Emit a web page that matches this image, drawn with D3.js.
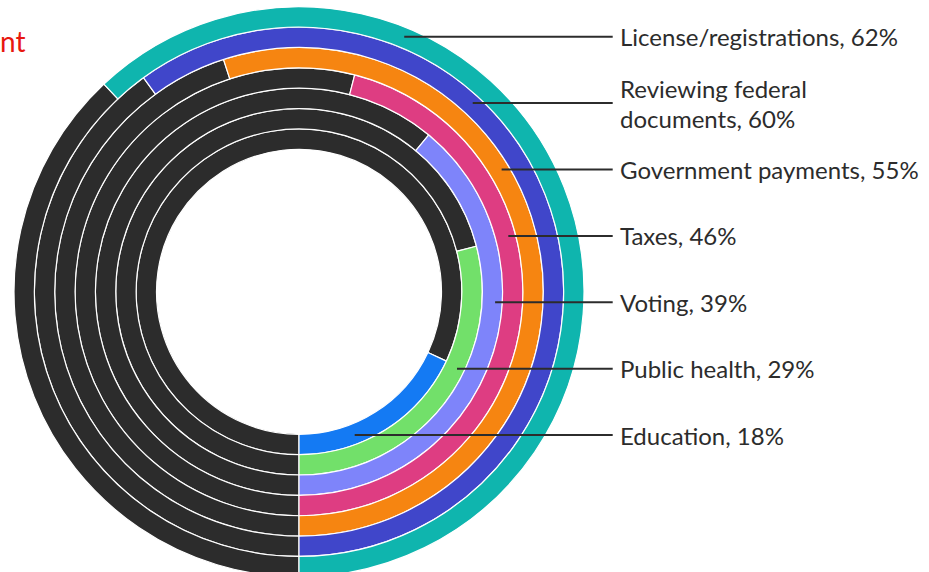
<!DOCTYPE html>
<html>
<head>
<meta charset="utf-8">
<script src="https://cdn.jsdelivr.net/npm/d3@7"></script>
<style>
  html, body { margin: 0; padding: 0; background: #ffffff; }
  svg { display: block; }
</style>
</head>
<body>
<svg id="chart" width="929" height="572"></svg>
<script>
// Share of respondents per service, innermost ring first
const categories = ["Education", "Public health", "Voting", "Taxes",
  "Government payments", "Reviewing federal documents", "License/registrations"];
const shares = [18, 29, 39, 46, 55, 60, 62];
// Label text per ring ("\n" marks a manual line break)
const labelNames = ["Education", "Public health", "Voting", "Taxes",
  "Government payments", "Reviewing federal\ndocuments", "License/registrations"];
const ringColors = ["#147af3", "#72e06a", "#7e84fa", "#de3d82", "#f68511", "#4046ca", "#0fb5ae"];
const restColor = "#2c2c2c";
const titleFragment = "nt";

const width = 929, height = 572;
const cx = 299, cy = 291.8;
const innerR = 142.5, outerR = 285;

const svg = d3.select("#chart");

// Ring radii: one band per category, inside to outside
const radius = d3.scaleBand().domain(categories).range([innerR, outerR]).paddingInner(0);
// Percent to angle: rings start at 6 o'clock and sweep counter-clockwise
const angle = d3.scaleLinear().domain([0, 100]).range([Math.PI, -Math.PI]);

const data = categories.map((c, i) => ({
  name: c, value: shares[i], color: ringColors[i], label: labelNames[i]
}));

const arc = d3.arc();
const g = svg.append("g").attr("transform", `translate(${cx},${cy})`);

const rings = g.selectAll("g.ring").data(data).join("g").attr("class", "ring");

// remaining share in dark grey
rings.append("path")
  .attr("d", d => arc({
    innerRadius: radius(d.name), outerRadius: radius(d.name) + radius.bandwidth(),
    startAngle: -Math.PI, endAngle: angle(d.value)
  }))
  .attr("fill", restColor)
  .attr("stroke", "#ffffff")
  .attr("stroke-width", 1.2);

// coloured share
rings.append("path")
  .attr("d", d => arc({
    innerRadius: radius(d.name), outerRadius: radius(d.name) + radius.bandwidth(),
    startAngle: angle(d.value), endAngle: Math.PI
  }))
  .attr("fill", d => d.color)
  .attr("stroke", "#ffffff")
  .attr("stroke-width", 1.2);

// Labels stacked on the right, outermost ring at the top
const labelY = d3.scalePoint().domain(categories.slice().reverse()).range([36.7, 435.1]);
const lineEndX = 612.7, textX = 620;

const labels = svg.append("g").selectAll("g.label").data(data).join("g").attr("class", "label");

labels.append("line")
  .attr("x1", d => {
    const rm = radius(d.name) + radius.bandwidth() / 2;
    const dy = labelY(d.name) - cy;
    return cx + Math.sqrt(Math.max(0, rm * rm - dy * dy)) + 3;
  })
  .attr("x2", lineEndX)
  .attr("y1", d => labelY(d.name))
  .attr("y2", d => labelY(d.name))
  .attr("stroke", "#2c2c2c")
  .attr("stroke-width", 2);

labels.each(function(d) {
  const rows = `${d.label}, ${d.value}%`.split("\n");
  const y0 = labelY(d.name) + 9.5 - (rows.length - 1) * 15;
  const t = d3.select(this).append("text")
    .attr("font-family", "Lato, 'Open Sans', sans-serif")
    .attr("font-size", 24)
    .attr("fill", "#2c2c2c");
  rows.forEach((r, i) => {
    t.append("tspan").attr("x", textX).attr("y", y0 + i * 30).text(r);
  });
});

// title fragment at the top-left corner
svg.append("text")
  .attr("x", 0)
  .attr("y", 52)
  .attr("text-anchor", "start")
  .attr("font-family", "Lato, 'Open Sans', sans-serif")
  .attr("font-size", 28)
  .attr("fill", "#e8170f")
  .text(titleFragment);
</script>
</body>
</html>
